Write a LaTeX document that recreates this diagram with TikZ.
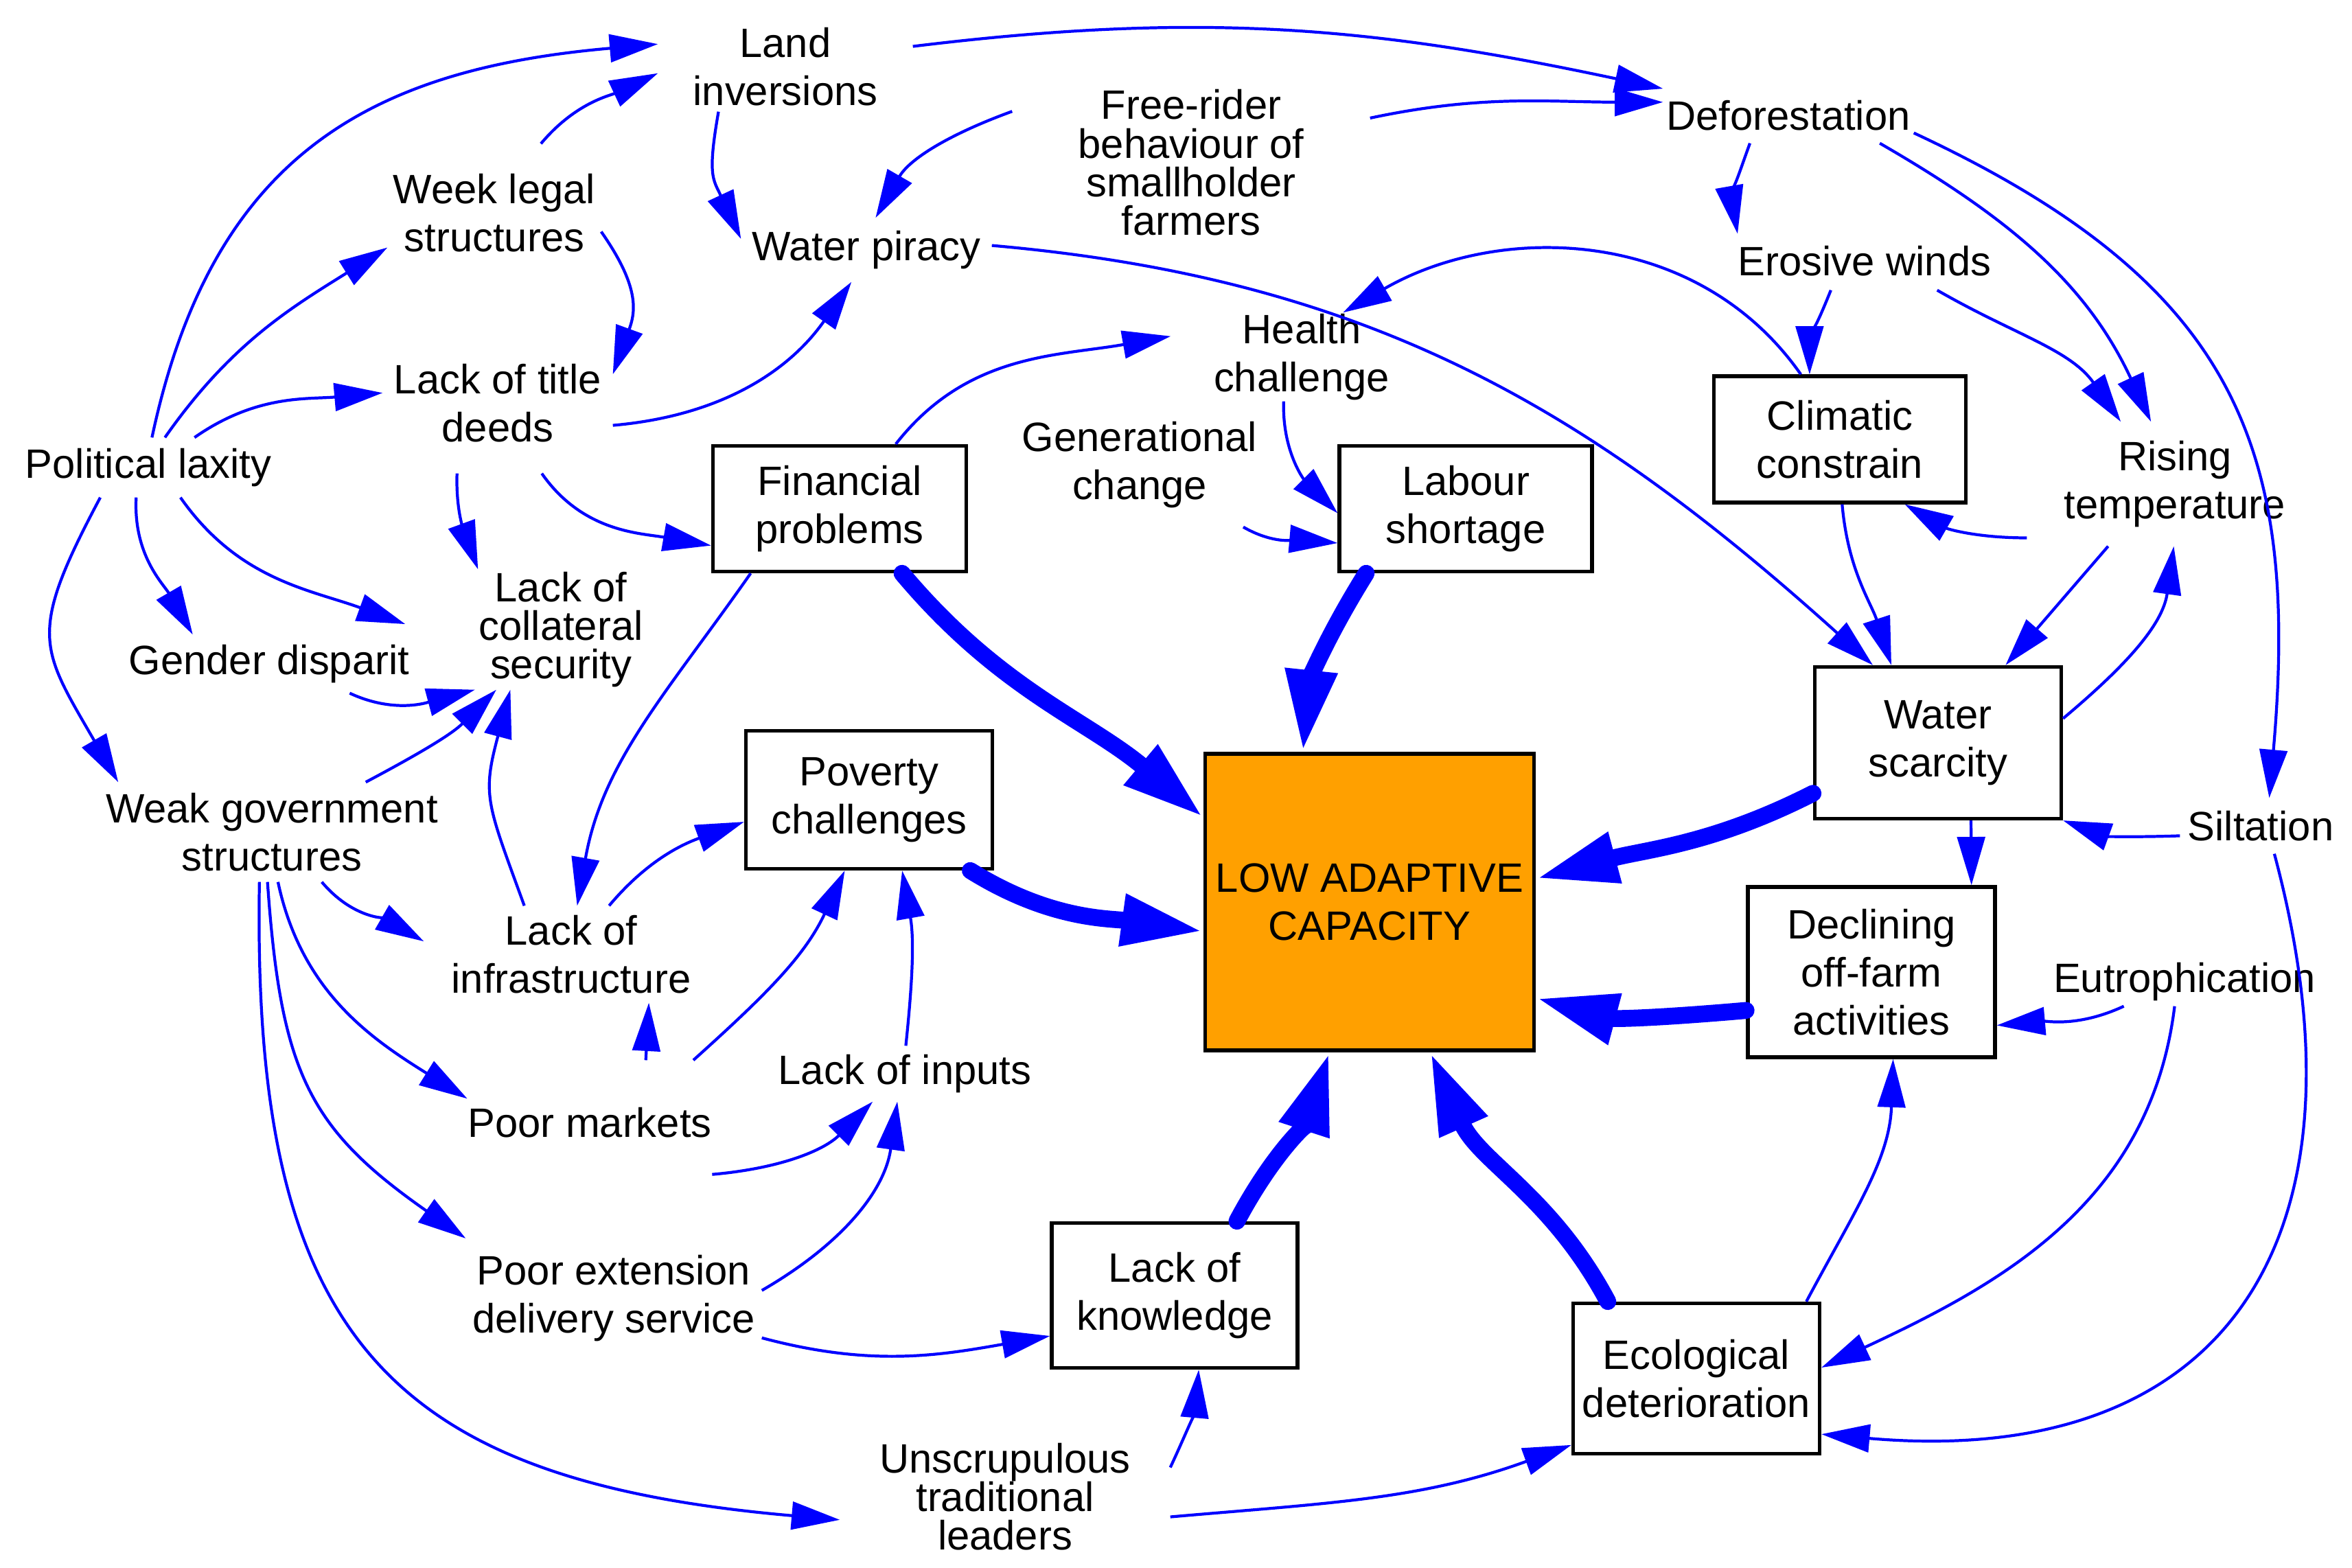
\documentclass[tikz,border=0pt]{standalone}
\usepackage{fontspec}
\setmainfont{Liberation Sans}
\usetikzlibrary{arrows.meta,shadows}

\definecolor{linkblue}{RGB}{0,0,255}
\definecolor{lowfill}{RGB}{255,160,0}

\tikzset{
    fac/.style = {inner sep = 0pt, align = center, font = \fontsize{17}{20}\selectfont},
    tight/.style = {font = \fontsize{17}{16}\selectfont},
    box/.style = {fac, draw, line width = 1.5pt, fill = white},
    link/.style = {color = linkblue, line width = 1.2pt, -{Triangle[length = 20pt, width = 11.5pt]}},
    major/.style = {color = linkblue, line width = 7pt, line cap = round, -{Triangle[length = 34pt, width = 20pt]}}
}

\begin{document}
\begin{tikzpicture}
%\draw [help lines] (0,0) grid (34,22);
    \useasboundingbox (0,0) rectangle (34.26,22.83);

    % causes (plain text)
    \node [fac, minimum width = 3.7cm, minimum height = 1.3cm] (land) at (11.44,21.86) {Land\\inversions};
    \node [fac, minimum width = 3.64cm, minimum height = 0.8cm] (defor) at (26.05,21.15) {Deforestation};
    \node [fac, tight, minimum width = 5.2cm, minimum height = 2.2cm] (free) at (17.35,20.46) {Free-rider\\behaviour of\\smallholder\\farmers};
    \node [fac, minimum width = 3.1cm, minimum height = 2cm] (week) at (7.20,19.73) {Week legal\\structures};
    \node [fac, minimum width = 3.64cm, minimum height = 0.92cm] (piracy) at (12.62,19.19) {Water piracy};
    \node [fac, minimum width = 3.6cm, minimum height = 0.84cm] (erosive) at (27.16,19.03) {Erosive winds};
    \node [fac, minimum width = 3.8cm, minimum height = 1.28cm] (health) at (18.96,17.63) {Health\\challenge};
    \node [fac, minimum width = 3.34cm, minimum height = 2.04cm] (title) at (7.25,16.96) {Lack of title\\deeds};
    \node [fac, minimum width = 3.8cm, minimum height = 0.86cm] (pl) at (2.16,16.02) {Political laxity};
    \node [fac, minimum width = 3.3cm, minimum height = 1.8cm] (gen) at (16.60,16.06) {Generational\\change};
    \node [fac, minimum width = 4.3cm, minimum height = 1.8cm] (rising) at (31.68,15.78) {Rising\\temperature};
    \node [fac, tight, minimum width = 4.52cm, minimum height = 1.74cm] (coll) at (8.17,13.66) {Lack of\\collateral\\security};
    \node [fac, minimum width = 4cm, minimum height = 0.84cm] (gender) at (3.92,13.16) {Gender disparit};
    \node [fac, minimum width = 4.64cm, minimum height = 1.44cm] (weak) at (3.96,10.71) {Weak government\\structures};
    \node [fac, minimum width = 2.34cm, minimum height = 0.8cm] (silt) at (32.93,10.80) {Siltation};
    \node [fac, minimum width = 4.28cm, minimum height = 1.4cm] (infra) at (8.32,8.93) {Lack of\\infrastructure};
    \node [fac, minimum width = 4cm, minimum height = 0.7cm] (eutro) at (31.82,8.53) {Eutrophication};
    \node [fac, minimum width = 3.7cm, minimum height = 0.8cm] (inputs) at (13.18,7.19) {Lack of inputs};
    \node [fac, minimum width = 3.52cm, minimum height = 1.8cm] (markets) at (8.59,6.48) {Poor markets};
    \node [fac, minimum width = 4.3cm, minimum height = 1.8cm] (ext) at (8.94,3.92) {Poor extension\\delivery service};
    \node [fac, tight, minimum width = 4.8cm, minimum height = 2cm] (unscr) at (14.64,1.03) {Unscrupulous\\traditional\\leaders};

    % boxed factors
    \node [box, minimum width = 3.69cm, minimum height = 1.83cm] (fin) at (12.23,15.42) {Financial\\problems};
    \node [box, minimum width = 3.68cm, minimum height = 1.83cm] (lab) at (21.35,15.42) {Labour\\shortage};
    \node [box, minimum width = 3.67cm, minimum height = 1.84cm] (clim) at (26.80,16.43) {Climatic\\constrain};
    \node [box, minimum width = 3.59cm, minimum height = 2.01cm] (pov) at (12.66,11.18) {Poverty\\challenges};
    \node [box, minimum width = 3.59cm, minimum height = 2.21cm] (ws) at (28.23,12.01) {Water\\scarcity};
    \node [box, minimum width = 3.6cm, minimum height = 2.48cm] (decl) at (27.26,8.67) {Declining\\off-farm\\activities};
    \node [box, minimum width = 3.58cm, minimum height = 2.11cm] (know) at (17.11,3.96) {Lack of\\knowledge};
    \node [box, minimum width = 3.59cm, minimum height = 2.19cm] (eco) at (24.71,2.75) {Ecological\\deterioration};
    \node [box, fill = lowfill, minimum width = 4.79cm, minimum height = 4.32cm,
        drop shadow = {shadow xshift = 0.8pt, shadow yshift = -0.8pt, fill = lowfill, opacity = 1}]
        (low) at (19.95,9.69) {LOW ADAPTIVE\\CAPACITY};

    % top left
    \draw [link] (pl.83) to [out = 78, in = 185, looseness = 1.15] (land.170);
    \draw [link] (week.56) to [out = 50, in = 205] (land.183);
    \draw [link] (pl.61) to [out = 55, in = 212] (week.198);
    \draw [link] (pl.33) to [out = 35, in = 185] (title.175);
    \draw [link] (week.350) to [out = -55, in = 70, looseness = 1.2] (title.14);
    \draw [link] (land.214) to [out = -100, in = 115, looseness = 1.3] (piracy.175);
    \draw [link] (title.349) to [out = 5, in = 235] (piracy.245);
    \draw [link] (title.240) to [out = -92, in = 110] (coll.144);
    \draw [link] (title.302) to [out = -55, in = 170] (fin.196);
    \draw [link] (land.9) to [out = 7, in = 168] (defor.168);
    \draw [link] (free.14) to [out = 12, in = 180] (defor.174);
    \draw [link] (free.164) to [out = 200, in = 60] (piracy.74);
    \draw [link] (piracy.2) to [out = -5, in = 138] (ws.130);

    % top right
    \draw [link] (defor.216) to [out = -110, in = 100] (erosive.168);
    \draw [link] (defor.343) to [out = -30, in = 115] (rising.111);
    \draw [link] (defor.352) to [out = -25, in = 85, looseness = 1.2] (silt.73);
    \draw [link] (erosive.221) to [out = -112, in = 90] (clim.115);
    \draw [link] (erosive.338) to [out = -30, in = 125] (rising.131);
    \draw [link] (clim.121) to [out = 125, in = 30] (health.47);
    \draw [link] (health.248) to [out = -92, in = 135] (lab.182);
    \draw [link] (gen.329) to [out = -30, in = 175] (lab.195);
    \draw [link] (fin.49) to [out = 52, in = 190] (health.171);
    \draw [link] (rising.200) to [out = 180, in = 330] (clim.315);
    \draw [link] (clim.272) to [out = -85, in = 108] (ws.121);
    \draw [link] (rising.223) -- (ws.49);
    \draw [link] (ws.11) to [out = 40, in = 262] (rising.269);
    \draw [link] (silt.187) to [out = 182, in = 340] (ws.south east);
    \draw [link] (ws.293) -- (decl.41);
    \draw [link] (eutro.202) to [out = 205, in = 5] (decl.337);
    \draw [link] (eutro.248) to [out = -97, in = 25] (eco.5);
    \draw [link] (silt.296) to [out = -75, in = -5, looseness = 1.4] (eco.336);
    \draw [link] (eco.35) to [out = 62, in = 268] (decl.284);

    % left side
    \draw [link] (pl.248) to [out = -93, in = 120] (gender.159);
    \draw [link] (pl.317) to [out = -55, in = 160] (coll.178);
    \draw [link] (pl.212) to [out = -118, in = 120, looseness = 1.4] (weak.162);
    \draw [link] (gender.340) to [out = -25, in = 195] (coll.215);
    \draw [link] (weak.28) to [out = 28, in = 225] (coll.223);
    \draw [link] (infra.134) to [out = 110, in = 255, looseness = 1.3] (coll.230);
    \draw [link] (fin.216) to [out = -125, in = 80] (infra.83);
    \draw [link] (infra.52) to [out = 50, in = 200] (pov.190);
    \draw [link] (weak.315) to [out = -50, in = 150] (infra.175);
    \draw [link] (weak.277) to [out = -78, in = 148] (markets.169);
    \draw [link] (weak.265) to [out = -86, in = 145, looseness = 1.2] (ext.158);
    \draw [link] (weak.256) to [out = -91, in = 175, looseness = 1.35] (unscr.188);

    % bottom
    \draw [link] (markets.48) -- (infra.328);
    \draw [link] (markets.31) to [out = 42, in = 245] (pov.251);
    \draw [link] (markets.337) to [out = 5, in = 225] (inputs.221);
    \draw [link] (ext.3) to [out = 30, in = 262] (inputs.255);
    \draw [link] (inputs.88) to [out = 84, in = 280] (pov.295);
    \draw [link] (ext.345) to [out = -15, in = 190] (know.198);
    \draw [link] (unscr.10) to [out = 65, in = 265] (know.288);
    \draw [link] (unscr.353) to [out = 5, in = 200] (eco.208);

    % main links into low adaptive capacity
    \draw [major] (fin.314) to [out = -50, in = 140] (low.153);
    \draw [major] (lab.213) to [out = -122, in = 84] (low.114);
    \draw [major] (pov.325) to [out = -32, in = 172] (low.190);
    \draw [major] (ws.202) to [out = 207, in = 15] (low.8);
    \draw [major] (decl.197) to [out = 185, in = 345] (low.330);
    \draw [major] (eco.139) to [out = 118, in = 294] (low.292);
    \draw [major] (know.50) to [out = 62, in = 252] (low.255);
\end{tikzpicture}
\end{document}
